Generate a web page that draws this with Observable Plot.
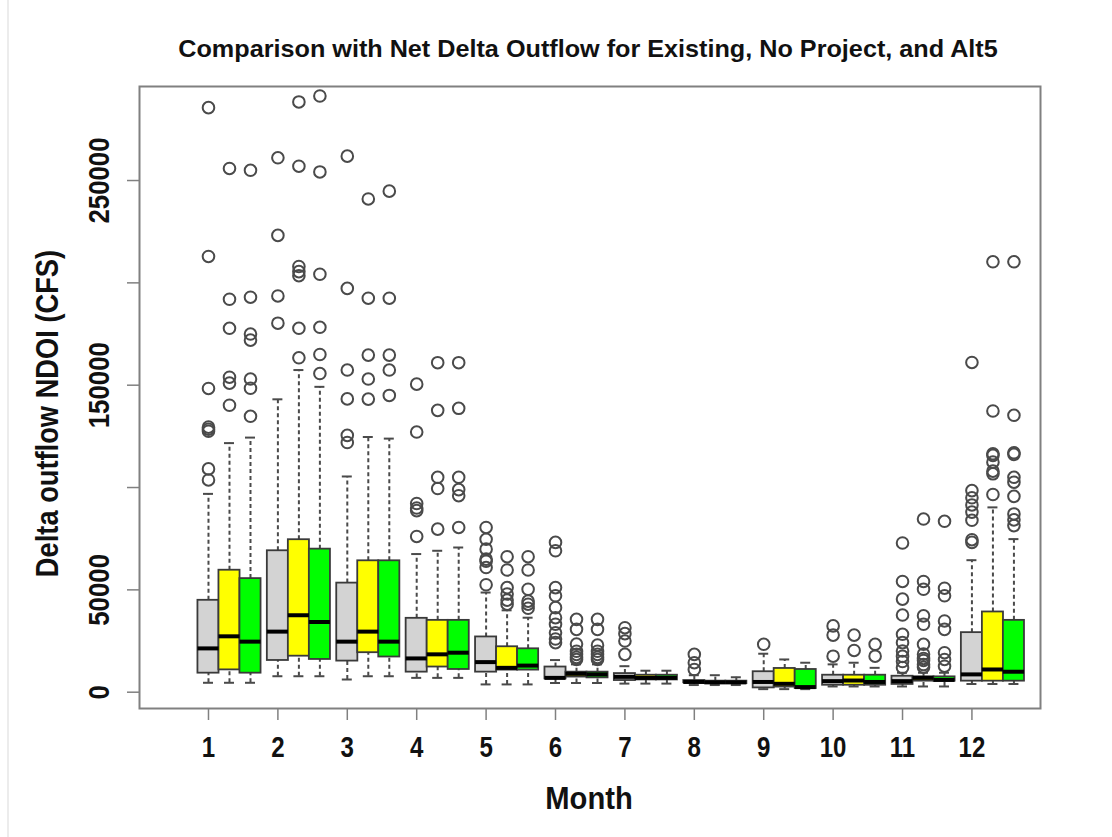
<!DOCTYPE html>
<html>
<head>
<meta charset="utf-8">
<script src="https://cdn.jsdelivr.net/npm/d3@7"></script>
<script src="https://cdn.jsdelivr.net/npm/@observablehq/plot@0.6"></script>
<style>
  html, body { margin: 0; padding: 0; background: #fff; }
  #wrap { position: relative; width: 1112px; height: 837px; overflow: hidden; }
  #edge { position: absolute; left: 7px; top: 0; width: 2px; height: 837px; background: #ececec; }
  svg { font-family: "Liberation Sans", Arial, Helvetica, sans-serif; }
</style>
</head>
<body>
<div id="wrap"><div id="edge"></div></div>
<script>
// ---------- data ----------
const title = "Comparison with Net Delta Outflow for Existing, No Project, and Alt5";
const xLabel = "Month";
const yLabel = "Delta outflow NDOI (CFS)";
const months = [1, 2, 3, 4, 5, 6, 7, 8, 9, 10, 11, 12];
const scenarios = ["Existing", "No Project", "Alt5"];
const boxColors = ["#d3d3d3", "#ffff00", "#00ff00"];
const yTicks = [0, 50000, 100000, 150000, 200000, 250000];
const yTickLabels = [0, 50000, 150000, 250000];

// Existing (grey)
const existingLow    = [4600, 7800, 6200, 7000, 3800, 4500, 4200, 3500, 1500, 2800, 2800, 4000];
const existingQ1     = [9300, 15500, 15200, 9800, 9800, 6500, 5700, 4600, 2100, 3400, 3800, 5400];
const existingMedian = [21400, 29600, 24700, 16500, 14700, 7000, 7500, 5000, 5000, 5400, 5400, 8700];
const existingQ3     = [44900, 69100, 53300, 36100, 27000, 12300, 9100, 5700, 10000, 8300, 7800, 29100];
const existingHigh   = [96900, 143100, 105400, 67500, 48700, 15700, 12700, 8300, 18800, 13600, 9500, 64500];
const existingOutliers = [
  [103700, 109100, 127500, 128500, 129500, 148400, 212900, 285600],
  [180300, 193600, 223200, 261100],
  [122000, 125500, 143300, 157400, 197300, 261900],
  [76100, 88700, 90000, 92200, 127100, 150500],
  [52500, 60900, 64000, 65000, 69900, 74700, 80500],
  [24200, 26000, 29000, 33200, 36400, 41300, 47100, 51100, 69100, 73200],
  [18500, 25000, 28600, 31500],
  [11100, 14400, 18500],
  [23400],
  [17600, 27900, 32400],
  [12000, 15000, 17500, 20100, 24200, 28300, 37700, 45500, 54100, 72900],
  [73200, 74500, 84000, 88000, 91500, 95000, 98500, 161100]
];

// No Project (yellow)
const noProjectLow    = [4600, 7800, 7800, 7000, 3800, 4500, 4200, 3500, 1500, 2800, 2800, 4000];
const noProjectQ1     = [10900, 17600, 19300, 12300, 10800, 7400, 6000, 4200, 2500, 3400, 5400, 5400];
const noProjectMedian = [27300, 37600, 29600, 18500, 11900, 9000, 7000, 4800, 4100, 5700, 7000, 11100];
const noProjectQ3     = [59600, 74500, 64200, 35100, 22200, 9800, 8300, 5400, 11600, 8300, 7500, 39200];
const noProjectHigh   = [121700, 157400, 124700, 69100, 40000, 13600, 10500, 8300, 16000, 14400, 9500, 90300];
const noProjectOutliers = [
  [140200, 151000, 153900, 177800, 192000, 255900],
  [163400, 177800, 203500, 205500, 208000, 257000, 288400],
  [143200, 153000, 164700, 192500, 241000],
  [79700, 99500, 105000, 137700, 161000],
  [43000, 45000, 48000, 51100, 59700, 66200],
  [16000, 17000, 18500, 20000, 23500, 30700, 35600],
  [],
  [],
  [],
  [20400, 27900],
  [12200, 13500, 15500, 16500, 18600, 23400, 33200, 37300, 50300, 54100, 84600],
  [96600, 106700, 108000, 112400, 115700, 116500, 137400, 210300]
];

// Alt5 (green)
const alt5Low    = [4600, 7800, 7800, 7000, 3800, 4500, 4200, 3500, 1500, 2800, 2800, 4000];
const alt5Q1     = [9300, 16000, 17200, 11100, 10800, 7000, 6000, 4200, 1800, 3400, 5400, 5400];
const alt5Median = [24700, 34300, 24700, 19300, 13000, 8700, 7000, 4800, 2500, 5000, 6000, 10000];
const alt5Q3     = [55500, 69900, 64200, 35100, 21200, 9800, 8300, 5400, 11100, 8300, 7500, 35100];
const alt5High   = [124400, 149200, 123900, 70700, 36400, 13600, 10500, 7300, 14400, 11900, 9500, 74800];
const alt5Outliers = [
  [134800, 148500, 153000, 172000, 175000, 193000, 255000],
  [155700, 165000, 178300, 204200, 254200, 291300],
  [145000, 157400, 164700, 192500, 244800],
  [80500, 96000, 99000, 105000, 138700, 161000],
  [41000, 43000, 44500, 50300, 59700, 66200],
  [16000, 17000, 18500, 20000, 23000, 30700, 35600],
  [],
  [],
  [],
  [17600, 23400],
  [12700, 16000, 19300, 30700, 34800, 47100, 50800, 83500],
  [81400, 84200, 87100, 95700, 102600, 105000, 116200, 117000, 135300, 210300]
];

// ---------- tables built from the arrays ----------
const series = [
  {name: scenarios[0], lo: existingLow, q1: existingQ1, med: existingMedian, q3: existingQ3, hi: existingHigh, out: existingOutliers},
  {name: scenarios[1], lo: noProjectLow, q1: noProjectQ1, med: noProjectMedian, q3: noProjectQ3, hi: noProjectHigh, out: noProjectOutliers},
  {name: scenarios[2], lo: alt5Low, q1: alt5Q1, med: alt5Median, q3: alt5Q3, hi: alt5High, out: alt5Outliers}
];
const step = 0.3026;   // distance between neighbouring boxes (month units)
const half = 0.152;    // half box width
const cap = 0.072;     // half staple width

const boxes = [];
const outliers = [];
series.forEach((s, si) => {
  months.forEach((m, mi) => {
    const pos = m + si * step;
    boxes.push({scenario: s.name, month: m, pos, lo: s.lo[mi], q1: s.q1[mi], med: s.med[mi], q3: s.q3[mi], hi: s.hi[mi]});
    s.out[mi].forEach(v => outliers.push({scenario: s.name, month: m, pos, value: v}));
  });
});

const font = '"Liberation Sans", Arial, Helvetica, sans-serif';

const chart = Plot.plot({
  width: 1112,
  height: 837,
  marginLeft: 139,
  marginRight: 72,
  marginTop: 86,
  marginBottom: 129,
  style: {background: "transparent", fontFamily: font},
  x: {domain: [0.006, 12.988], axis: null},
  y: {domain: [-7964, 295940], axis: null},
  color: {domain: scenarios, range: boxColors},
  marks: [
    // whiskers
    Plot.ruleX(boxes, {x: "pos", y1: "q3", y2: "hi", stroke: "#4a4a4a", strokeWidth: 2, strokeDasharray: "4,3"}),
    Plot.ruleX(boxes, {x: "pos", y1: "lo", y2: "q1", stroke: "#4a4a4a", strokeWidth: 2, strokeDasharray: "4,3"}),
    // staples
    Plot.ruleY(boxes, {y: "hi", x1: d => d.pos - cap, x2: d => d.pos + cap, stroke: "#4a4a4a", strokeWidth: 2}),
    Plot.ruleY(boxes, {y: "lo", x1: d => d.pos - cap, x2: d => d.pos + cap, stroke: "#4a4a4a", strokeWidth: 2}),
    // boxes
    Plot.rect(boxes, {x1: d => d.pos - half, x2: d => d.pos + half, y1: "q1", y2: "q3", fill: "scenario", stroke: "#3a3a3a", strokeWidth: 1.8}),
    // medians
    Plot.ruleY(boxes, {y: "med", x1: d => d.pos - half, x2: d => d.pos + half, stroke: "#000", strokeWidth: 4}),
    // outliers
    Plot.dot(outliers, {x: "pos", y: "value", r: 5.8, stroke: "#4a4a4a", strokeWidth: 2, fill: "none"}),
    // frame and ticks
    Plot.frame({stroke: "#808080", strokeWidth: 2}),
    Plot.axisY(yTicks, {anchor: "left", tickSize: 12, tickFormat: () => "", label: null, stroke: "#808080", strokeWidth: 1.5}),
    Plot.axisX(months, {anchor: "bottom", tickSize: 12, tickFormat: () => "", label: null, stroke: "#808080", strokeWidth: 1.5}),
    // tick labels
    Plot.text(months, {x: d => d, frameAnchor: "bottom", dy: 48.7, lineAnchor: "bottom", text: d => String(d),
      fontSize: 30, fontWeight: "bold", fill: "#111"}),
    Plot.text(yTickLabels, {y: d => d, frameAnchor: "left", dx: -40.3, rotate: -90, lineAnchor: "middle", textAnchor: "middle",
      text: d => String(d), fontSize: 30, fontWeight: "bold", fill: "#111"}),
    // axis titles and chart title
    Plot.text([yLabel], {frameAnchor: "left", dx: -91, dy: 16, rotate: -90, lineAnchor: "middle", textAnchor: "middle",
      text: d => d, fontSize: 31, fontWeight: "bold", fill: "#111"}),
    Plot.text([xLabel], {frameAnchor: "bottom", dy: 100, dx: -1, lineAnchor: "bottom", textAnchor: "middle",
      text: d => d, fontSize: 31, fontWeight: "bold", fill: "#111"}),
    Plot.text([title], {frameAnchor: "top", dy: -29.3, dx: -2, lineAnchor: "bottom", textAnchor: "middle",
      text: d => d, fontSize: 24, fontWeight: "bold", fill: "#111"})
  ]
});

document.getElementById("wrap").appendChild(chart);

// condense / stretch glyphs along the text direction to match the reference lettering
const widthFactor = new Map([
  [title, 1.05],
  [yLabel, 0.88],
  [xLabel, 0.94],
  ...months.map(m => [String(m), 0.8]),
  ...yTickLabels.map(v => [String(v), 0.86])
]);
chart.querySelectorAll("text").forEach(t => {
  const sx = widthFactor.get(t.textContent);
  if (!sx) return;
  const len = t.getComputedTextLength();
  if (len > 0) {
    t.setAttribute("textLength", (len * sx).toFixed(1));
    t.setAttribute("lengthAdjust", "spacingAndGlyphs");
  }
});
</script>
</body>
</html>
